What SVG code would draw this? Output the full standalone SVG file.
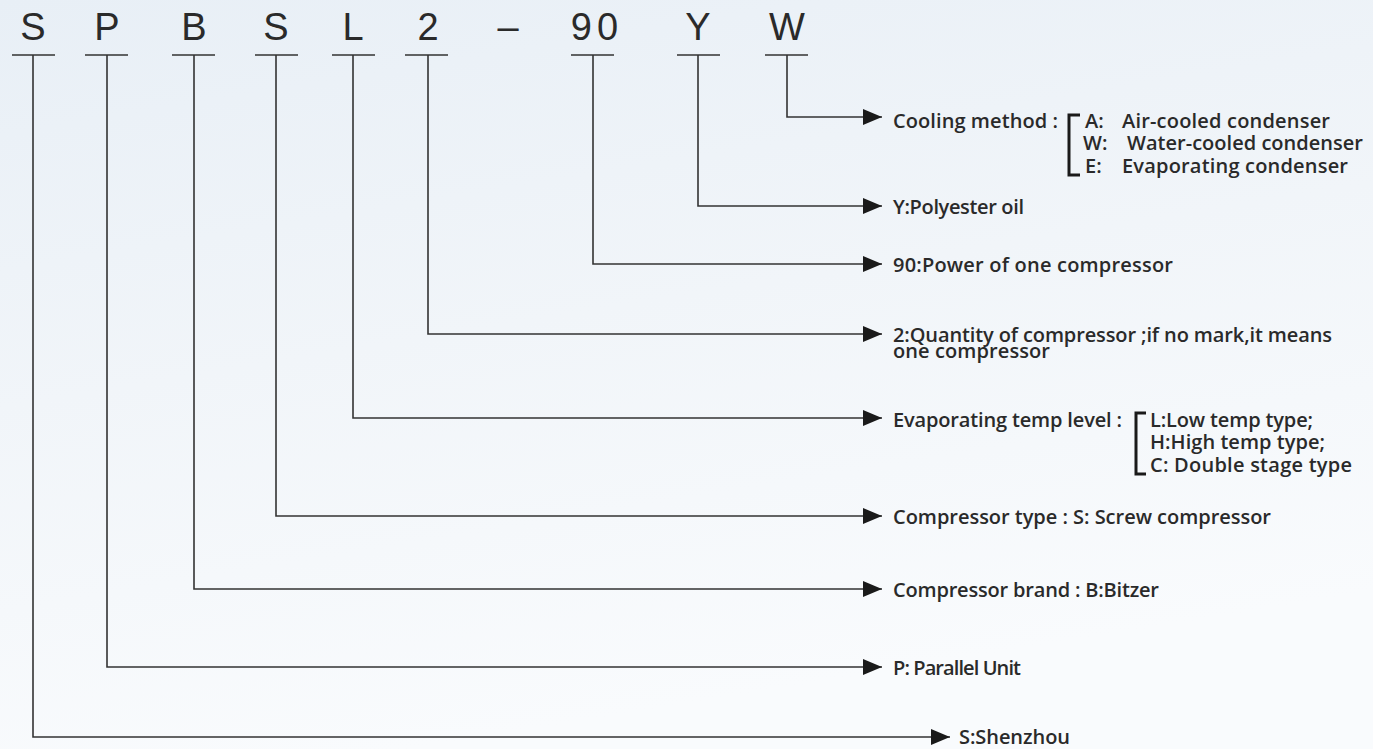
<svg xmlns="http://www.w3.org/2000/svg" width="1373" height="749" viewBox="0 0 1373 749">
<defs>
<linearGradient id="bg" x1="0" y1="0" x2="0.3" y2="1">
<stop offset="0" stop-color="#e8eff6"/>
<stop offset="0.5" stop-color="#f1f5f9"/>
<stop offset="1" stop-color="#f9fbfd"/>
</linearGradient>
<marker id="ah" markerWidth="20" markerHeight="20" refX="19" refY="8" orient="auto" markerUnits="userSpaceOnUse">
<path d="M0,0 L19,8 L0,16 Z" fill="#1a1a1a"/>
</marker>
<style>
.code{font-family:"Liberation Sans",Arial,sans-serif;font-size:38px;fill:#2a2a2a;text-anchor:middle}
.lbl{font-family:"Open Sans","Liberation Sans",sans-serif;font-weight:600;font-size:20px;fill:#2a2a2a}
.bar{stroke:#333;stroke-width:1.6;fill:none}
.conn{stroke:#333;stroke-width:1.6;fill:none}
.brk{stroke:#1a1a1a;stroke-width:3;fill:none}
</style>
</defs>
<rect width="1373" height="749" fill="url(#bg)"/>
<g id="code">
<text class="code" x="33" y="40">S</text>
<text class="code" x="107" y="40">P</text>
<text class="code" x="194" y="40">B</text>
<text class="code" x="276" y="40">S</text>
<text class="code" x="353" y="40">L</text>
<text class="code" x="428" y="40">2</text>
<text class="code" x="508" y="40">–</text>
<text class="code" x="597" y="40" letter-spacing="5">90</text>
<text class="code" x="698" y="40">Y</text>
<text class="code" x="787" y="40">W</text>
<path class="bar" d="M12,55H55 M85,55H128 M172,55H215 M255,55H298 M332,55H375 M405,55H448 M571,55H614 M677,55H720 M765,55H808"/>
</g>
<g id="connectors">
<path class="conn" marker-end="url(#ah)" d="M787,55V117H882"/>
<path class="conn" marker-end="url(#ah)" d="M698,55V206H882"/>
<path class="conn" marker-end="url(#ah)" d="M593,55V264H882"/>
<path class="conn" marker-end="url(#ah)" d="M428,55V334H882"/>
<path class="conn" marker-end="url(#ah)" d="M353,55V418H882"/>
<path class="conn" marker-end="url(#ah)" d="M276,55V516H882"/>
<path class="conn" marker-end="url(#ah)" d="M194,55V589H882"/>
<path class="conn" marker-end="url(#ah)" d="M107,55V667H882"/>
<path class="conn" marker-end="url(#ah)" d="M33,55V737H950"/>
</g>
<g id="n-cooling">
<text class="lbl" x="893" y="128" textLength="165">Cooling method :</text>
<path class="brk" d="M1080,115H1069V175H1080"/>
<text class="lbl" x="1085" y="128">A:</text>
<text class="lbl" x="1122" y="128" textLength="208">Air-cooled condenser</text>
<text class="lbl" x="1083" y="150">W:</text>
<text class="lbl" x="1127" y="150" textLength="236">Water-cooled condenser</text>
<text class="lbl" x="1085" y="173">E:</text>
<text class="lbl" x="1122" y="173" textLength="226">Evaporating condenser</text>
</g>
<g id="n-oil"><text class="lbl" x="893" y="214" textLength="131">Y:Polyester oil</text></g>
<g id="n-power"><text class="lbl" x="893" y="272" textLength="280">90:Power of one compressor</text></g>
<g id="n-qty">
<text class="lbl" x="893" y="342" textLength="439">2:Quantity of compressor ;if no mark,it means</text>
<text class="lbl" x="893" y="358" textLength="157">one compressor</text>
</g>
<g id="n-evap">
<text class="lbl" x="893" y="427" textLength="229">Evaporating temp level :</text>
<path class="brk" d="M1146,413H1136V474H1146"/>
<text class="lbl" x="1150" y="427" textLength="163">L:Low temp type;</text>
<text class="lbl" x="1150" y="449" textLength="175">H:High temp type;</text>
<text class="lbl" x="1150" y="472" textLength="202">C: Double stage type</text>
</g>
<g id="n-ctype"><text class="lbl" x="893" y="524" textLength="378">Compressor type : S: Screw compressor</text></g>
<g id="n-brand"><text class="lbl" x="893" y="597" textLength="266">Compressor brand : B:Bitzer</text></g>
<g id="n-parallel"><text class="lbl" x="893" y="675" textLength="128">P: Parallel Unit</text></g>
<g id="n-shenzhou"><text class="lbl" x="959" y="744" textLength="111">S:Shenzhou</text></g>
</svg>
